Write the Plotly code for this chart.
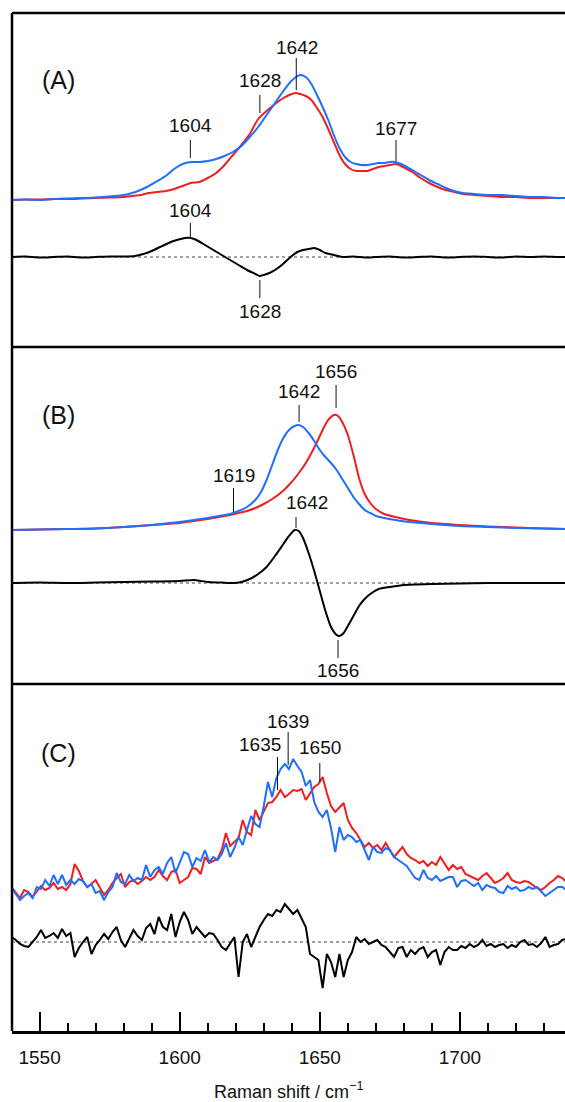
import plotly.graph_objects as go

# ---------------- Panel A ----------------
a_wn_blue = [1540, 1545, 1550, 1555, 1560, 1565, 1570, 1575, 1580, 1583, 1586, 1589, 1592, 1595, 1598, 1601, 1604, 1607,
             1610, 1613, 1616, 1619, 1622, 1625, 1628, 1631, 1634, 1637, 1639.5, 1641.5, 1643, 1645, 1647, 1649, 1651,
             1653, 1655, 1657, 1659, 1661, 1663, 1665, 1667, 1669, 1671, 1673, 1675, 1677, 1679, 1681, 1683, 1686,
             1689, 1692, 1695, 1698, 1701, 1705, 1710, 1715, 1720, 1725, 1730, 1735, 1738]
a_blue = [0, 0.5, 0, 1, 1.5, 2, 2.5, 3.5, 5, 7, 10, 14, 19, 24, 31, 36, 38, 38,
          39, 41, 44, 48, 54, 63, 73, 85, 97, 109, 118, 123, 125, 123, 116, 105, 93,
          80, 65, 52, 43, 38, 36, 35, 35, 36, 37, 37, 38, 38, 36, 33, 30, 25,
          20, 16, 12, 9, 7, 6, 5, 5, 4, 3, 3, 2, 2]
a_wn_red = [1540, 1545, 1550, 1555, 1560, 1565, 1570, 1575, 1580, 1583, 1586, 1589, 1592, 1595, 1598, 1601, 1604, 1607,
            1610, 1613, 1616, 1619, 1622, 1625, 1628, 1631, 1634, 1637, 1640, 1641.5, 1643, 1645, 1647, 1649, 1651,
            1653, 1655, 1657, 1659, 1661, 1663, 1665, 1667, 1669, 1671, 1673, 1675, 1677, 1679, 1681, 1683, 1686,
            1689, 1692, 1695, 1698, 1701, 1705, 1710, 1715, 1720, 1725, 1730, 1735, 1738]
a_red = [0, 0.5, 0.5, 1, 1, 1.5, 2, 2.5, 3, 4, 5, 7, 8, 9, 11, 14, 17, 18,
         22, 27, 35, 45, 55, 66, 81, 89, 96, 102, 106, 107, 106, 104, 100, 92, 83,
         71, 58, 45, 36, 31, 29, 29, 29, 31, 33, 34, 35, 36, 34, 31, 28, 22,
         17, 13, 10, 8, 6, 5, 4, 3, 3, 2, 2, 2, 2]
a_wn_diff = [1540, 1545, 1550, 1555, 1560, 1565, 1570, 1575, 1580, 1584, 1587, 1590, 1593, 1596, 1599, 1602, 1604, 1606,
             1609, 1612, 1615, 1618, 1621, 1624, 1627, 1628.5, 1630, 1632, 1634, 1636, 1638, 1640, 1642, 1644, 1646,
             1648, 1650, 1652, 1655, 1658, 1662, 1666, 1670, 1675, 1680, 1685, 1690, 1695, 1700, 1705, 1710, 1715,
             1720, 1725, 1730, 1735, 1738]
a_diff = [0, 0.5, -0.5, 0, 0.5, -0.5, 0, 0.5, 0.5, 1, 3, 6, 10, 14, 17, 19, 19, 17,
          12, 7, 2, -3, -8, -13, -17, -19, -18, -16, -13, -9, -4, 1, 5, 7, 8,
          9, 7, 4, 2, 0, 0.5, -0.5, 0, 0.5, -0.5, 0, 0.5, -0.5, 0, 0.5, 0, -0.5,
          0.5, 0, 0.5, 0, 0]

# ---------------- Panel B ----------------
b_wn_blue = [1540, 1550, 1560, 1570, 1580, 1590, 1600, 1605, 1610, 1614, 1618, 1621, 1624, 1627, 1629, 1631, 1633, 1635,
             1637, 1639, 1641, 1642.5, 1644, 1646, 1648, 1650, 1652, 1654, 1656, 1658, 1660, 1662, 1664, 1666, 1668,
             1670, 1673, 1677, 1682, 1690, 1700, 1710, 1720, 1730, 1738]
b_blue = [0, 0.5, 1, 1.5, 3, 5, 8, 10, 12, 14, 16, 19, 23, 30, 38, 50, 65, 80,
          92, 100, 104, 105, 103, 97, 89, 80, 73, 67, 60, 51, 42, 33, 26, 20, 17,
          14, 12, 10, 8, 6, 4, 3, 2, 1.5, 1]
b_wn_red = [1540, 1550, 1560, 1570, 1580, 1590, 1600, 1605, 1610, 1614, 1618, 1621, 1624, 1627, 1630, 1633, 1636, 1639,
            1642, 1645, 1647, 1649, 1651, 1653, 1655, 1656.5, 1658, 1660, 1662, 1664, 1666, 1668, 1670, 1673, 1677,
            1682, 1690, 1700, 1710, 1720, 1730, 1738]
b_red = [0, 0.5, 1, 1.5, 3, 5, 7, 9, 11, 13, 15, 17, 19, 22, 26, 31, 37, 45,
         55, 67, 77, 88, 100, 110, 115, 114, 108, 95, 75, 52, 36, 27, 21, 16, 13,
         10, 7, 5, 3.5, 2.5, 1.5, 1]
b_wn_diff = [1540, 1550, 1560, 1570, 1580, 1590, 1600, 1605, 1610, 1615, 1619, 1622, 1625, 1628, 1631, 1634, 1637, 1639,
             1641, 1642.5, 1644, 1646, 1648, 1650, 1652, 1654, 1656, 1657, 1658.5, 1660, 1662, 1664, 1666, 1668, 1671,
             1675, 1680, 1690, 1700, 1710, 1720, 1730, 1738]
b_diff = [0, 0.5, 0, 0.5, 1, 1.5, 2, 3, 1, 0.5, 0, 1, 4, 9, 16, 27, 39, 47,
          53, 52, 45, 30, 12, -8, -28, -44, -52, -53, -50, -43, -33, -23, -16, -11, -6,
          -4, -2, -1, -0.5, 0, 0, 0, 0]

# ---------------- Panel C ----------------
c_wn = [1540.0, 1541.5, 1543.0, 1544.5, 1546.0, 1547.5, 1549.0, 1550.5, 1552.0, 1553.5, 1555.0, 1556.5, 1558.0, 1559.5,
        1561.0, 1562.5, 1564.0, 1565.5, 1567.0, 1568.5, 1570.0, 1571.5, 1573.0, 1574.5, 1576.0, 1577.5, 1579.0, 1580.5,
        1582.0, 1583.5, 1585.0, 1586.5, 1588.0, 1589.5, 1591.0, 1592.5, 1594.0, 1595.5, 1597.0, 1598.5, 1600.0, 1601.5,
        1603.0, 1604.5, 1606.0, 1607.5, 1609.0, 1610.5, 1612.0, 1613.5, 1615.0, 1616.5, 1618.0, 1619.5, 1621.0, 1622.5,
        1624.0, 1625.5, 1627.0, 1628.5, 1630.0, 1631.5, 1633.0, 1634.5, 1636.0, 1637.5, 1639.0, 1640.5, 1642.0, 1643.5,
        1645.0, 1646.5, 1648.0, 1649.5, 1651.0, 1652.5, 1654.0, 1655.5, 1657.0, 1658.5, 1660.0, 1661.5, 1663.0, 1664.5,
        1666.0, 1667.5, 1669.0, 1670.5, 1672.0, 1673.5, 1675.0, 1676.5, 1678.0, 1679.5, 1681.0, 1682.5, 1684.0, 1685.5,
        1687.0, 1688.5, 1690.0, 1691.5, 1693.0, 1694.5, 1696.0, 1697.5, 1699.0, 1700.5, 1702.0, 1703.5, 1705.0, 1706.5,
        1708.0, 1709.5, 1711.0, 1712.5, 1714.0, 1715.5, 1717.0, 1718.5, 1720.0, 1721.5, 1723.0, 1724.5, 1726.0, 1727.5,
        1729.0, 1730.5, 1732.0, 1733.5, 1735.0, 1736.5, 1738.0]
c_blue = [2, -4, -10, -6, -3, -8, 3, 1, 10, 4, 15, 6, 15, 5,
          10, 6, 11, 9, 3, 6, -3, -1, -10, -2, 3, 17, 8, 6,
          15, 9, 12, 10, 25, 13, 20, 23, 16, 27, 33, 17, 28, 38,
          36, 23, 32, 29, 40, 28, 33, 30, 36, 47, 33, 42, 53, 45,
          60, 74, 66, 63, 84, 108, 93, 112, 121, 126, 121, 131, 124, 118,
          104, 110, 88, 78, 73, 80, 62, 38, 63, 50, 55, 53, 48, 50,
          40, 30, 43, 38, 37, 42, 40, 33, 30, 27, 24, 18, 12, 10,
          20, 12, 10, 14, 9, 11, 13, 13, 3, 9, 10, 7, 4, 7,
          0, 5, 3, 2, -2, -3, 4, 1, 3, -1, 0, 3, 1, 3,
          -2, -6, -3, 0, 3, 3, 0]
c_red = [3, -3, -8, 0, -2, -7, -1, 4, 0, 2, 7, 1, 3, 0,
         6, 26, 19, 9, 3, 6, 10, 3, -5, 0, 7, 12, 16, 3,
         8, 10, 6, 9, 13, 10, 13, 20, 14, 10, 18, 20, 7, 10,
         13, 22, 21, 16, 33, 27, 29, 31, 40, 57, 44, 48, 52, 70,
         58, 55, 80, 70, 78, 87, 88, 93, 100, 93, 96, 100, 99, 101,
         90, 96, 103, 106, 113, 97, 84, 78, 82, 87, 70, 62, 57, 50,
         43, 47, 42, 45, 40, 47, 40, 33, 38, 43, 36, 32, 30, 27,
         29, 24, 28, 25, 33, 26, 20, 25, 21, 23, 16, 14, 12, 10,
         14, 17, 12, 7, 9, 12, 17, 10, 8, 7, 9, 8, 5, 2,
         0, 3, 7, 10, 14, 12, 8]
c_diff = [5, 2, -2, -4, -5, 0, 5, 12, 4, 6, 9, 4, 13, 6,
          9, -15, -6, 0, 5, -12, -3, 2, 8, 3, 10, 15, 2, -5,
          4, 12, 6, 2, 14, 18, 8, 25, 15, 12, 28, 5, 20, 30,
          22, 8, 15, 10, 5, 9, 8, 2, -5, -8, -2, 5, -35, 0,
          8, -5, 5, 15, 22, 28, 26, 32, 30, 38, 33, 28, 32, 24,
          15, -12, -15, -18, -46, -12, -20, -35, -12, -35, -18, -10, 5, 0,
          3, -2, 0, 2, -3, -5, -10, -15, -6, -5, -15, -8, -12, -7,
          -5, -15, -10, -8, -23, -10, -5, -8, -8, -4, -6, -2, -5, -3,
          2, -4, -2, -5, -3, -2, -6, -3, -5, 0, 2, -3, -2, -5,
          -1, 5, -5, -3, -2, 2, 3]

# vertical offsets of difference spectra within each panel
diff_offset = {"A": -57, "B": -53, "C": -52}

# peak labels: panel, wavenumber of tick, label text x, text y, tick y0, tick y1
labels = [
    ("A", 1603.8, 1603.8, 75, 60, 42, "1604"),
    ("A", 1628.6, 1628.6, 120, 105, 87, "1628"),
    ("A", 1641.6, 1641.8, 153, 142, 110, "1642"),
    ("A", 1677.2, 1677.2, 72, 60, 39, "1677"),
    ("A", 1603.8, 1603.8, -10, -23, -38, "1604"),
    ("A", 1628.6, 1628.6, -111, -80, -98, "1628"),
    ("B", 1655.8, 1655.8, 158, 145, 122, "1656"),
    ("B", 1642.6, 1642.6, 138, 125, 108, "1642"),
    ("B", 1619.2, 1619.2, 54, 42, 18, "1619"),
    ("B", 1641.5, 1645.5, 27, 13, 2, "1642"),
    ("B", 1656.5, 1656.5, -140, -110, -128, "1656"),
    ("C", 1638.7, 1638.7, 169, 158, 125, "1639"),
    ("C", 1634.9, 1628.8, 146, 133, 100, "1635"),
    ("C", 1650.0, 1650.0, 143, 127, 108, "1650"),
]
panel_titles = [("A", "(A)", 120), ("B", "(B)", 115), ("C", "(C)", 137)]

BLUE = "#1f6fff"
RED = "#f01e1e"
BLACK = "#000000"
FONT = "Arial, Liberation Sans, sans-serif"

yref = {"A": "y", "B": "y2", "C": "y3"}
yranges = {"A": [-147, 187], "B": [-154, 183], "C": [-141, 206]}
domains = {"A": [0.67191, 1.0], "B": [0.34086, 0.67191], "C": [0.0, 0.34086]}

fig = go.Figure()


def add_panel(p, wn_r, red, wn_b, blue, wn_d, diff, shape):
    off = diff_offset[p]
    fig.add_trace(go.Scatter(x=wn_r, y=red, mode="lines", line=dict(color=RED, width=2, shape=shape, smoothing=0.6),
                             yaxis=yref[p], xaxis="x", showlegend=False, hoverinfo="skip"))
    fig.add_trace(go.Scatter(x=wn_b, y=blue, mode="lines", line=dict(color=BLUE, width=2, shape=shape, smoothing=0.6),
                             yaxis=yref[p], xaxis="x", showlegend=False, hoverinfo="skip"))
    fig.add_shape(type="line", xref="x domain", yref=yref[p], x0=0, x1=1, y0=off, y1=off,
                  line=dict(color="#444444", width=1, dash="dot"), layer="below")
    fig.add_trace(go.Scatter(x=wn_d, y=[v + off for v in diff], mode="lines",
                             line=dict(color=BLACK, width=2, shape=shape, smoothing=0.6),
                             yaxis=yref[p], xaxis="x", showlegend=False, hoverinfo="skip"))


add_panel("A", a_wn_red, a_red, a_wn_blue, a_blue, a_wn_diff, a_diff, "spline")
add_panel("B", b_wn_red, b_red, b_wn_blue, b_blue, b_wn_diff, b_diff, "spline")
add_panel("C", c_wn, c_red, c_wn, c_blue, c_wn, c_diff, "linear")

for p, xt, xl, yt, y0, y1, txt in labels:
    fig.add_shape(type="line", xref="x", yref=yref[p], x0=xt, x1=xt, y0=y0, y1=y1,
                  line=dict(color="#111111", width=1))
    fig.add_annotation(x=xl, y=yt, xref="x", yref=yref[p], text=txt, showarrow=False,
                       font=dict(family=FONT, size=19, color="#111111"), xanchor="center", yanchor="middle")

for p, txt, yv in panel_titles:
    fig.add_annotation(x=0.0832, y=yv, xref="paper", yref=yref[p], text=txt, showarrow=False,
                       font=dict(family=FONT, size=25, color="#111111"), xanchor="center", yanchor="middle")

# frame lines
frame = dict(color="black", width=2.5)
fig.add_shape(type="line", xref="paper", yref="paper", x0=0, x1=0, y0=0, y1=1, line=frame)
for yy in [1.0, domains["A"][0], domains["B"][0]]:
    fig.add_shape(type="line", xref="paper", yref="paper", x0=0, x1=1.05, y0=yy, y1=yy, line=frame)

fig.add_annotation(x=0.5, y=-0.058, xref="paper", yref="paper", text="Raman shift / cm<sup>\u22121</sup>",
                   showarrow=False, font=dict(family=FONT, size=18, color="#111111"),
                   xanchor="center", yanchor="middle")

yax_common = dict(visible=False, showgrid=False, zeroline=False, fixedrange=True)
fig.update_layout(
    width=565, height=1102,
    margin=dict(l=12, r=0, t=13, b=71),
    paper_bgcolor="white", plot_bgcolor="white",
    showlegend=False,
    xaxis=dict(range=[1540.15, 1737.5], domain=[0, 1], anchor="y3",
               showline=True, linecolor="black", linewidth=2.5, mirror=False,
               ticks="inside", ticklen=19, tickwidth=2, tickcolor="black",
               tickvals=[1550, 1600, 1650, 1700], ticktext=["1550", "1600", "1650", "1700"],
               tickfont=dict(family=FONT, size=19, color="#111111"), ticklabelstandoff=7,
               showgrid=False, zeroline=False,
               minor=dict(dtick=10, tick0=1550, ticks="inside", ticklen=8, tickwidth=2,
                          tickcolor="black", showgrid=False)),
    yaxis=dict(domain=domains["A"], range=yranges["A"], anchor="x", **yax_common),
    yaxis2=dict(domain=domains["B"], range=yranges["B"], anchor="x", **yax_common),
    yaxis3=dict(domain=domains["C"], range=yranges["C"], anchor="x", **yax_common),
)

fig.write_html("out.html", config={"displayModeBar": False},
               post_script="document.body.style.margin='0';document.body.style.overflow='hidden';")
